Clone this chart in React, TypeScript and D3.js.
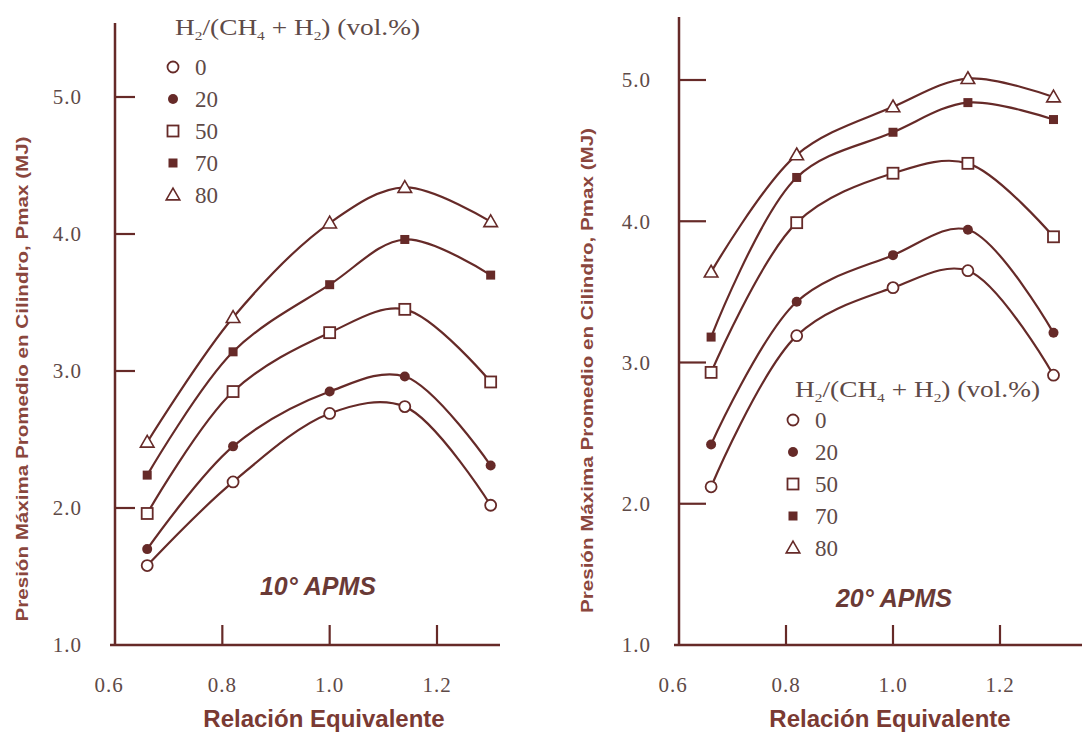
import React from 'react';
import * as d3 from 'd3';

// equivalence ratio (x) shared by every series
const ratios = [0.66, 0.82, 1.0, 1.14, 1.3];
const seriesLabels = ['0', '20', '50', '70', '80'];
const symbolKinds = ['circleOpen', 'circleFilled', 'squareOpen', 'squareFilled', 'triangleOpen'];

// 10° APMS — Pmax (MJ)
const apms10_h0 = [1.58, 2.19, 2.69, 2.74, 2.02];
const apms10_h20 = [1.7, 2.45, 2.85, 2.96, 2.31];
const apms10_h50 = [1.96, 2.85, 3.28, 3.45, 2.92];
const apms10_h70 = [2.24, 3.14, 3.63, 3.96, 3.7];
const apms10_h80 = [2.48, 3.39, 4.08, 4.34, 4.09];

// 20° APMS — Pmax (MJ)
const apms20_h0 = [2.12, 3.19, 3.53, 3.65, 2.91];
const apms20_h20 = [2.42, 3.43, 3.76, 3.94, 3.21];
const apms20_h50 = [2.93, 3.99, 4.34, 4.41, 3.89];
const apms20_h70 = [3.18, 4.31, 4.63, 4.84, 4.72];
const apms20_h80 = [3.64, 4.47, 4.81, 5.01, 4.88];

const xTicks = [0.6, 0.8, 1.0, 1.2];
const xTickLabels = ['0.6', '0.8', '1.0', '1.2'];
const yTicks = [1, 2, 3, 4, 5];
const yTickLabels = ['1.0', '2.0', '3.0', '4.0', '5.0'];

const INK = '#662a28';
const TITLE = '#8a463d';
const TICK_TEXT = '#5e4a47';
const SERIF = '"Liberation Serif", "DejaVu Serif", serif';
const SANS = '"Liberation Sans", Arial, sans-serif';

function Marker({ kind, x, y }) {
  if (kind === 'circleOpen') return <circle cx={x} cy={y} r={5.5} fill="#fff" stroke={INK} strokeWidth={1.8} />;
  if (kind === 'circleFilled') return <circle cx={x} cy={y} r={5} fill={INK} />;
  if (kind === 'squareOpen') return <rect x={x - 5.5} y={y - 5.5} width={11} height={11} fill="#fff" stroke={INK} strokeWidth={1.8} />;
  if (kind === 'squareFilled') return <rect x={x - 4.5} y={y - 4.5} width={9} height={9} fill={INK} />;
  const tri = d3.symbol(d3.symbolTriangle, 80)();
  return <path d={tri} transform={`translate(${x},${y + 1})`} fill="#fff" stroke={INK} strokeWidth={1.6} />;
}

function LegendTitle({ x, y }) {
  return (
    <text x={x} y={y} fontFamily={SERIF} fontSize={23} fill={TICK_TEXT} textLength={245} lengthAdjust="spacingAndGlyphs">
      H<tspan fontSize={13} dy={5}>2</tspan>
      <tspan dy={-5}>/(CH</tspan>
      <tspan fontSize={13} dy={5}>4</tspan>
      <tspan dy={-5}> + H</tspan>
      <tspan fontSize={13} dy={5}>2</tspan>
      <tspan dy={-5}>) (vol.%)</tspan>
    </text>
  );
}

function Panel({ series, xRange, yRange, axisTop, xAxisEnd, tickLen, yLabelGap, yTitleX, legend, tag, titleX }) {
  const x = d3.scaleLinear().domain([0.6, 1.2]).range(xRange);
  const y = d3.scaleLinear().domain([1, 5]).range(yRange);
  const x0 = x(0.6);
  const yBase = y(1);
  const line = d3.line().x(d => x(d[0])).y(d => y(d[1])).curve(d3.curveCatmullRom.alpha(0.5));

  return (
    <g>
      {series.map((vals, i) => (
        <path key={'l' + i} d={line(ratios.map((r, j) => [r, vals[j]]))} fill="none" stroke={INK} strokeWidth={2.2} />
      ))}
      {series.map((vals, i) =>
        vals.map((v, j) => <Marker key={`m${i}-${j}`} kind={symbolKinds[i]} x={x(ratios[j])} y={y(v)} />)
      )}

      {/* axes */}
      <line x1={x0} x2={x0} y1={axisTop} y2={yBase + 1} stroke={INK} strokeWidth={2.5} />
      <line x1={x0 - 5} x2={xAxisEnd} y1={yBase} y2={yBase} stroke={INK} strokeWidth={2.5} />
      {yTicks.slice(1).map(t => (
        <line key={'yt' + t} x1={x0} x2={x0 + tickLen} y1={y(t)} y2={y(t)} stroke={INK} strokeWidth={2.2} />
      ))}
      {xTicks.slice(1).map(t => (
        <line key={'xt' + t} x1={x(t)} x2={x(t)} y1={yBase} y2={yBase - 20} stroke={INK} strokeWidth={2.2} />
      ))}
      {yTicks.map((t, i) => (
        <text key={'yl' + t} x={x0 - yLabelGap} y={y(t)} dy="0.35em" textAnchor="end" fontFamily={SERIF} fontSize={21} letterSpacing={1} fill={TICK_TEXT}>
          {yTickLabels[i]}
        </text>
      ))}
      {xTicks.map((t, i) => (
        <text key={'xl' + t} x={x(t) - (i === 0 ? 6 : 0)} y={yBase + 47} textAnchor="middle" fontFamily={SERIF} fontSize={21} letterSpacing={1} fill={TICK_TEXT}>
          {xTickLabels[i]}
        </text>
      ))}

      {/* titles */}
      <text transform={`translate(${yTitleX},${(yRange[0] + yRange[1]) / 2 + 8}) rotate(-90)`} textAnchor="middle" dy="0.35em" fontFamily={SANS} fontWeight="bold" fontSize={16} fill={TITLE} textLength={485} lengthAdjust="spacingAndGlyphs">
        Presión Máxima Promedio en Cilindro, Pmax (MJ)
      </text>
      <text x={titleX} y={727} textAnchor="middle" fontFamily={SANS} fontWeight="bold" fontSize={24} fill="#7a3a33">
        Relación Equivalente
      </text>
      <text x={tag.x} y={tag.y} textAnchor="middle" fontFamily={SANS} fontWeight="bold" fontStyle="italic" fontSize={25} fill="#6a3a36">
        {tag.text}
      </text>

      {/* legend */}
      <LegendTitle x={legend.x} y={legend.y} />
      {seriesLabels.map((lab, i) => (
        <g key={'lg' + i}>
          <Marker kind={symbolKinds[i]} x={legend.x - 2} y={legend.rowY + i * 32} />
          <text x={legend.x + 20} y={legend.rowY + i * 32} dy="0.35em" fontFamily={SERIF} fontSize={23} fill={TICK_TEXT}>
            {lab}
          </text>
        </g>
      ))}
    </g>
  );
}

export default function App() {
  return (
    <svg width={1082} height={738} style={{ position: 'fixed', left: 0, top: 0, background: '#fff' }}>
      <rect width={1082} height={738} fill="#fff" />
      <Panel
        series={[apms10_h0, apms10_h20, apms10_h50, apms10_h70, apms10_h80]}
        xRange={[115, 437]}
        yRange={[645, 97]}
        axisTop={23}
        xAxisEnd={500}
        tickLen={20}
        yLabelGap={33}
        yTitleX={22}
        titleX={324}
        tag={{ text: '10° APMS', x: 318, y: 595 }}
        legend={{ x: 175, y: 35, rowY: 67 }}
      />
      <Panel
        series={[apms20_h0, apms20_h20, apms20_h50, apms20_h70, apms20_h80]}
        xRange={[679, 1000]}
        yRange={[645, 80]}
        axisTop={17}
        xAxisEnd={1082}
        tickLen={27}
        yLabelGap={28}
        yTitleX={587}
        titleX={890}
        tag={{ text: '20° APMS', x: 894, y: 607 }}
        legend={{ x: 795, y: 397, rowY: 420 }}
      />
    </svg>
  );
}
